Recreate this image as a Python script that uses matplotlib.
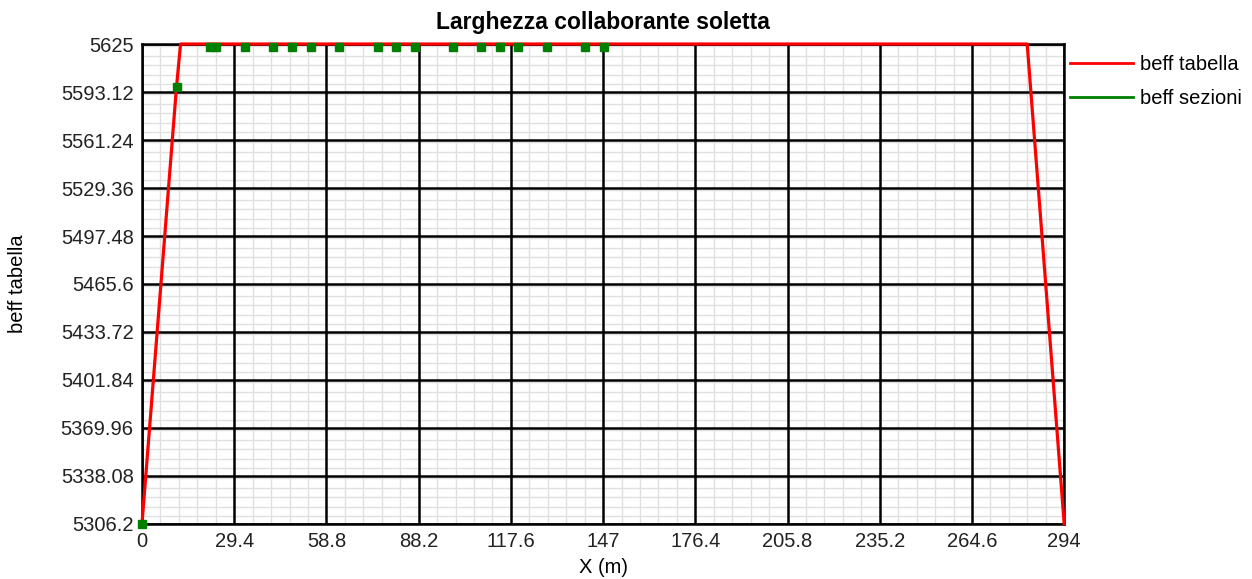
import matplotlib.pyplot as plt
from matplotlib.lines import Line2D
from matplotlib.ticker import MultipleLocator

plt.rcParams['font.family'] = ['Liberation Sans', 'DejaVu Sans']

# beff from table (piecewise line)
x_tab = [0, 11.0, 12.3, 282.2, 294]
beff_tab = [5306.2, 5596.4, 5625, 5625, 5306.2]

# beff at sections (points)
x_sez = [0, 11.1, 21.8, 23.7, 32.9, 41.9, 47.9, 53.8, 62.9, 75.1, 81.0, 87.0,
         99.1, 108.0, 114.0, 119.8, 129.2, 141.3, 147.3]
beff_sez = [5306.2, 5596.4] + [5623.0] * 17

x_ticks = [0, 29.4, 58.8, 88.2, 117.6, 147, 176.4, 205.8, 235.2, 264.6, 294]
y_ticks = [5306.2, 5338.08, 5369.96, 5401.84, 5433.72, 5465.6, 5497.48,
           5529.36, 5561.24, 5593.12, 5625]

fs = 14.5

fig = plt.figure(figsize=(12.52, 5.79), dpi=100)
ax = fig.add_axes([0.1134, 0.095, 0.7366, 0.829])

ax.plot(x_tab, beff_tab, color='#ff0000', lw=2.3, zorder=4, clip_on=False)
ax.plot(x_sez, beff_sez, ls='none', marker='s', ms=5.5, color='#008000',
        zorder=5, clip_on=False)

ax.set_xlim(0, 294)
ax.set_ylim(5306.2, 5625)
ax.set_xticks(x_ticks)
ax.set_yticks(y_ticks)
ax.set_xticklabels([f'{v:g}' for v in x_ticks])
ax.set_yticklabels([f'{v:g}' for v in y_ticks])
ax.xaxis.set_minor_locator(MultipleLocator(29.4 / 5))
ax.yaxis.set_minor_locator(MultipleLocator(31.88 / 5))
ax.grid(which='minor', color='#e0e0e0', lw=1)
ax.set_axisbelow(True)
# major grid drawn on top of the minor one
for v in x_ticks:
    ax.axvline(v, color='black', lw=1.8, zorder=1)
for v in y_ticks:
    ax.axhline(v, color='black', lw=1.8, zorder=1)
ax.tick_params(which='both', length=0, labelsize=fs, colors='#222222', pad=6)
for s in ax.spines.values():
    s.set_linewidth(1.8)
    s.set_zorder(2)

ax.set_title('Larghezza collaborante soletta', fontsize=16.5, fontweight='bold', pad=11)
ax.set_xlabel('X (m)', fontsize=fs, va='center')
ax.xaxis.set_label_coords(0.5, -0.09)
ax.set_ylabel('beff tabella', fontsize=fs, va='center')
ax.yaxis.set_label_coords(-0.1345, 0.5)

handles = [Line2D([], [], color='#ff0000', lw=2),
           Line2D([], [], color='#008000', lw=2)]
ax.legend(handles, ['beff tabella', 'beff sezioni'], loc='upper left',
          bbox_to_anchor=(1.0, 0.99), frameon=False, fontsize=fs,
          handlelength=3.1, handletextpad=0.35, labelspacing=0.75,
          borderaxespad=0.0, borderpad=0.3)

fig.savefig('out.png', dpi=100)
